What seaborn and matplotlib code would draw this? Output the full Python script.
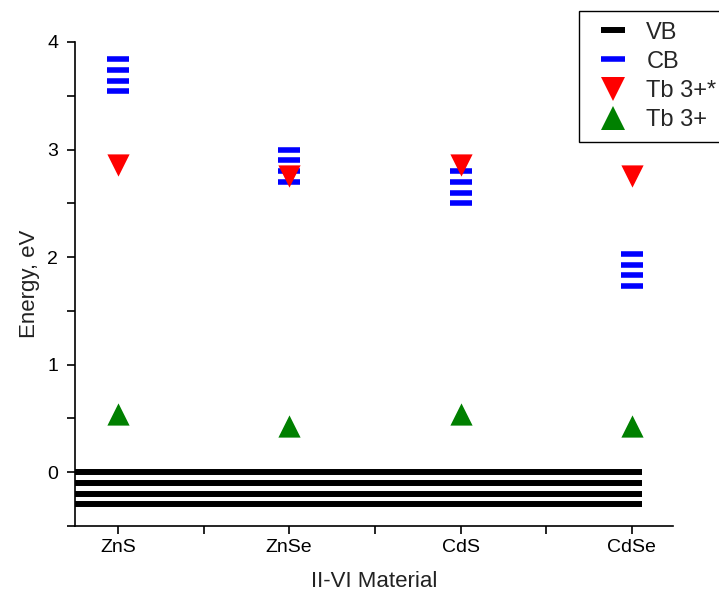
import matplotlib
matplotlib.use("Agg")
import matplotlib.pyplot as plt
from matplotlib.lines import Line2D
from matplotlib.ticker import MultipleLocator, FixedLocator
import seaborn as sns
import pandas as pd

# II-VI host materials and band / Tb level energies (eV)
materials = ["ZnS", "ZnSe", "CdS", "CdSe"]
vb_levels = [0.0, -0.1, -0.2, -0.3]
cb_level_1 = [3.54, 2.70, 2.50, 1.73]
cb_level_2 = [3.64, 2.80, 2.60, 1.83]
cb_level_3 = [3.74, 2.90, 2.70, 1.93]
cb_level_4 = [3.84, 3.00, 2.80, 2.03]
tb_excited = [2.86, 2.75, 2.86, 2.75]
tb_ground = [0.54, 0.43, 0.54, 0.43]
legend_labels = ["VB", "CB", "Tb 3+*", "Tb 3+"]

sns.set_theme(style="ticks")
plt.rcParams["font.family"] = ["Liberation Sans", "DejaVu Sans"]

xpos = list(range(1, len(materials) + 1))
cb = pd.DataFrame({
    "x": xpos * 4,
    "E": cb_level_1 + cb_level_2 + cb_level_3 + cb_level_4,
})
tb = pd.DataFrame({"x": xpos, "excited": tb_excited, "ground": tb_ground})

fig = plt.figure(figsize=(7.19, 5.97), dpi=100)
ax = fig.add_axes([75 / 719, 1 - 526 / 597, (673 - 75) / 719, (526 - 42) / 597])

x_lo, x_hi = 0.75, 4.24
bar_half = 0.06  # half width of a level mark, in category units

# valence band: thick black lines running across all materials
for v in vb_levels:
    sns.lineplot(x=xpos, y=[v] * len(xpos), ax=ax, color="black",
                 linewidth=4.3, solid_capstyle="butt", legend=False, zorder=2)
    ax.hlines(v, x_lo, xpos[0], color="black", linewidth=4.3, zorder=2)
    ax.hlines(v, xpos[-1], xpos[-1] + bar_half, color="black", linewidth=4.3, zorder=2)

# conduction band levels
sns.scatterplot(data=cb, x="x", y="E", ax=ax, marker="_", s=16 ** 2,
                color="blue", linewidth=4.0, legend=False, zorder=3)

# Tb3+ excited and ground states
sns.scatterplot(data=tb, x="x", y="excited", ax=ax, marker="v", s=16 ** 2,
                color="red", linewidth=0, legend=False, zorder=4)
sns.scatterplot(data=tb, x="x", y="ground", ax=ax, marker="^", s=16 ** 2,
                color="green", linewidth=0, legend=False, zorder=4)

ax.set_xlim(x_lo, x_hi)
ax.set_ylim(-0.5, 4.0)
ax.xaxis.set_major_locator(FixedLocator(xpos))
ax.set_xticklabels(materials)
ax.xaxis.set_minor_locator(FixedLocator([1.5, 2.5, 3.5]))
ax.yaxis.set_major_locator(MultipleLocator(1))
ax.yaxis.set_minor_locator(MultipleLocator(0.5))

for side in ("top", "right"):
    ax.spines[side].set_visible(False)
for side in ("left", "bottom"):
    ax.spines[side].set_linewidth(1.2)
    ax.spines[side].set_color("black")

ax.tick_params(which="both", direction="out", length=6, width=1.2,
               color="black", labelsize=14, labelcolor="black")
ax.tick_params(axis="x", pad=3)
ax.tick_params(axis="y", pad=6)
ax.set_xlabel("II-VI Material", fontsize=16, color="#222222", labelpad=11)
ax.set_ylabel("Energy, eV", fontsize=16, color="#222222", labelpad=5)

handles = [
    Line2D([], [], linestyle="none", marker="_", markersize=17,
           markeredgewidth=4.3, color="black"),
    Line2D([], [], linestyle="none", marker="_", markersize=17,
           markeredgewidth=4.0, color="blue"),
    Line2D([], [], linestyle="none", marker="v", markersize=17,
           markeredgewidth=0, color="red"),
    Line2D([], [], linestyle="none", marker="^", markersize=17,
           markeredgewidth=0, color="green"),
]
leg = fig.legend(handles, legend_labels, loc="upper left",
                 bbox_to_anchor=(579 / 719, 1 - 11 / 597),
                 bbox_transform=fig.transFigure, borderaxespad=0,
                 fontsize=17, frameon=True, fancybox=False, framealpha=1,
                 edgecolor="black", borderpad=0.45, handlelength=2.0,
                 handletextpad=0.4, labelspacing=0.3)
leg.get_frame().set_linewidth(1.0)

fig.savefig("out.png", dpi=100)
